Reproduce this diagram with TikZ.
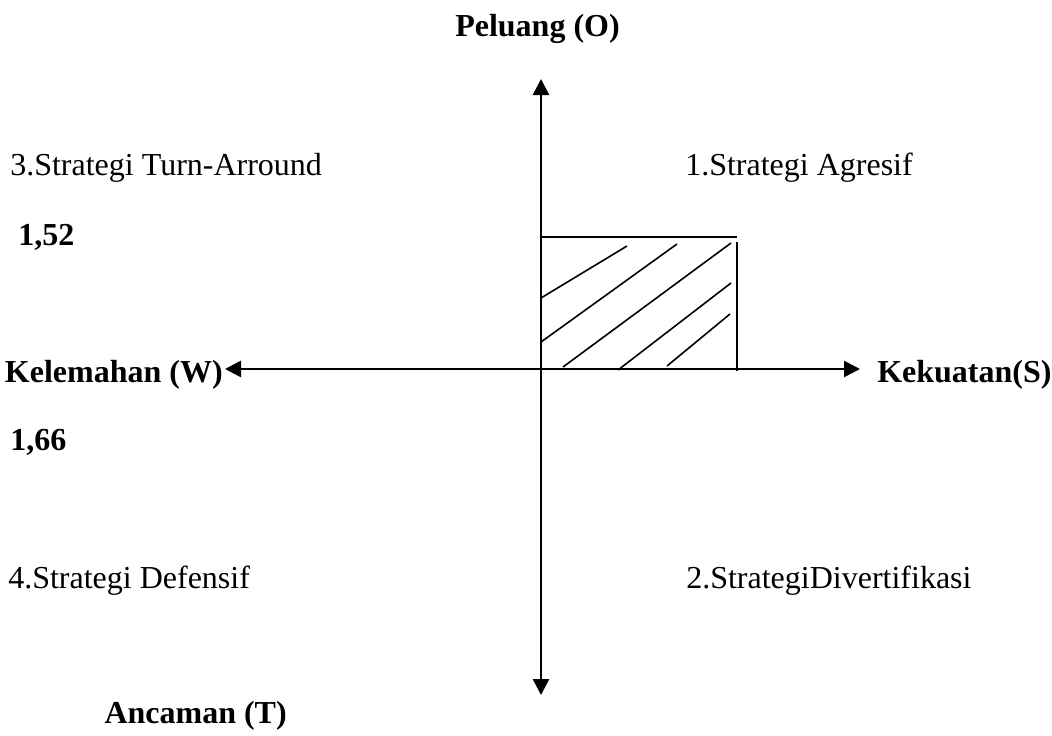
\documentclass[tikz,border=0pt]{standalone}
\usepackage{fontspec}
\setmainfont{Liberation Serif}
\usepackage{tikz}
\usetikzlibrary{arrows.meta, positioning}

\begin{document}
\begin{tikzpicture}[
    x=0.75pt, y=-0.75pt,
    txt/.style={anchor=base west, inner sep=0pt, font=\fontsize{24}{29}\selectfont},
    axis/.style={line width=2pt, {Triangle[length=12pt,width=12pt]}-{Triangle[length=12pt,width=12pt]}},
    hatch/.style={line width=1.2pt}
]
\useasboundingbox (0,0) rectangle (1052,735);

% Axis ends
\coordinate (top) at (541,79);
\coordinate (bottom) at (541,695);
\coordinate (left) at (225,369);
\coordinate (right) at (860,369);

% Axis labels
\node[txt, anchor=base, font=\fontsize{24}{29}\selectfont\bfseries] (peluang) at (537.5,37) {Peluang (O)};
\node[txt, anchor=base east, font=\fontsize{24}{29}\selectfont\bfseries] (ancaman) at (287,723) {Ancaman (T)};
\node[txt, anchor=base east, font=\fontsize{24}{29}\selectfont\bfseries] (lemah) at (223,382) {Kelemahan (W)};
\node[txt, font=\fontsize{24}{29}\selectfont\bfseries] (kuat) at (877,382) {Kekuatan(S)};

% Quadrants
\node[txt] (turn) at (10,175) {3.Strategi Turn-Arround};
\node[txt] (agresif) at (685,175) {1.Strategi Agresif};
\node[txt] (defensif) at (8,588) {4.Strategi Defensif};
\node[txt] (diver) at (686,588) {2.StrategiDivertifikasi};

% Scores
\node[txt, font=\fontsize{24}{29}\selectfont\bfseries] (skor1) at (18,245) {1,52};
\node[txt, font=\fontsize{24}{29}\selectfont\bfseries] (skor2) at (10,450) {1,66};

\draw[axis] (top) -- (bottom);
\draw[axis] (left) -- (right);

% Shaded area
\draw[hatch] (541,237) -- (737,237);
\draw[hatch] (737,242) -- (737,371);
\draw[hatch] (541,298) -- (627,246);
\draw[hatch] (541,342) -- (677,244);
\draw[hatch] (563,367) -- (731,243);
\draw[hatch] (618,370) -- (731,283);
\draw[hatch] (667,366) -- (730,314);

\end{tikzpicture}
\end{document}
